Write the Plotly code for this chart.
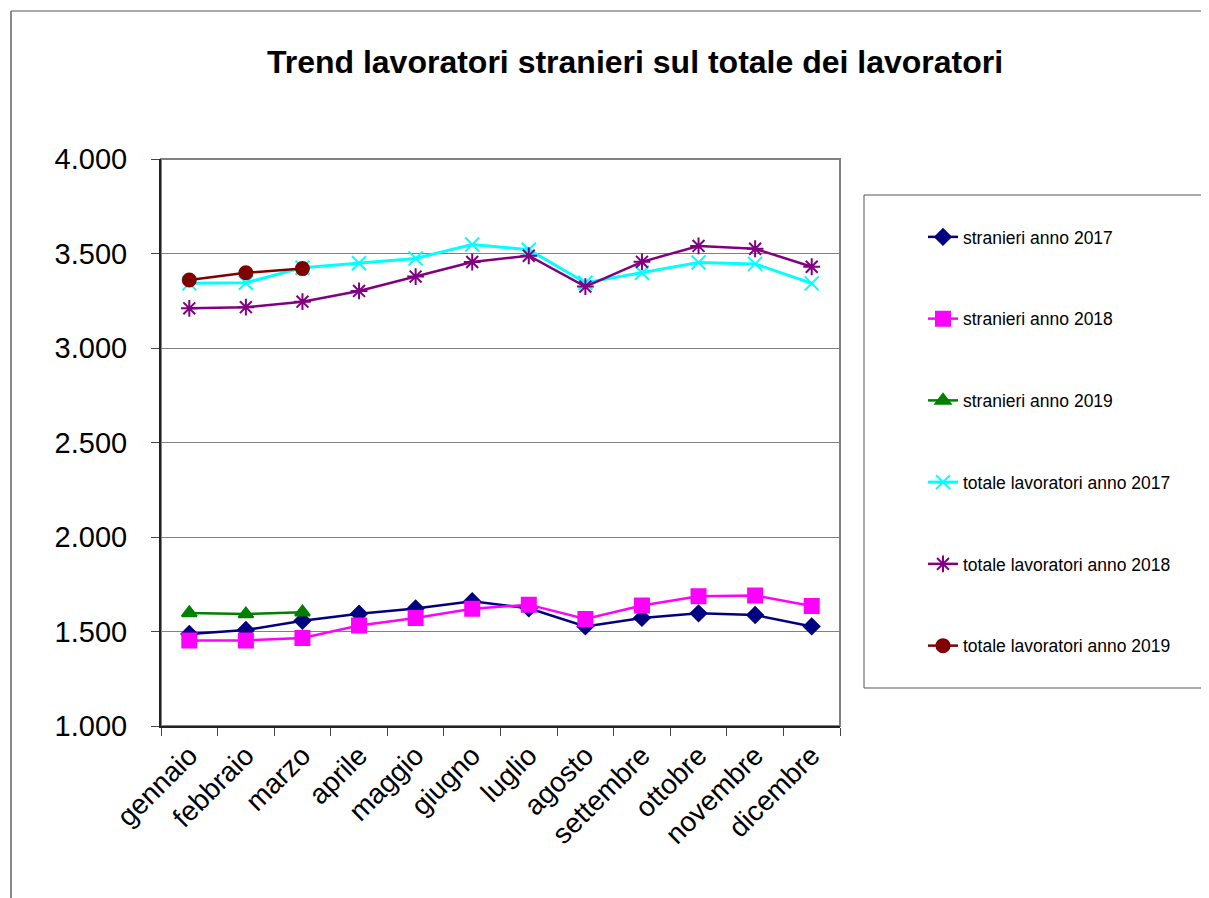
import plotly.graph_objects as go

mesi = ["gennaio", "febbraio", "marzo", "aprile", "maggio", "giugno",
        "luglio", "agosto", "settembre", "ottobre", "novembre", "dicembre"]

stranieri_2017 = [1487, 1508, 1557, 1594, 1622, 1660, 1623, 1527, 1572, 1596, 1587, 1527]
stranieri_2018 = [1453, 1453, 1466, 1532, 1571, 1620, 1642, 1566, 1638, 1686, 1690, 1635]
stranieri_2019 = [1598, 1592, 1602]
totale_2017 = [3342, 3345, 3425, 3448, 3474, 3548, 3520, 3345, 3398, 3452, 3445, 3342]
totale_2018 = [3210, 3216, 3245, 3302, 3378, 3455, 3488, 3325, 3456, 3540, 3525, 3430]
totale_2019 = [3360, 3398, 3420]

serie = [
    ("stranieri anno 2017", stranieri_2017, "#000080", "diamond", 12, 2.5),
    ("stranieri anno 2018", stranieri_2018, "#FF00FF", "square", 14, 2.5),
    ("stranieri anno 2019", stranieri_2019, "#008000", "triangle-up", 13, 2.5),
    ("totale lavoratori anno 2017", totale_2017, "#00FFFF", "x-thin-open", 14, 3),
    ("totale lavoratori anno 2018", totale_2018, "#800080", "asterisk-open", 14, 2.5),
    ("totale lavoratori anno 2019", totale_2019, "#800000", "circle", 13, 2.5),
]

fig = go.Figure()
for i, (nome, valori, col, simb, dim, lw) in enumerate(serie):
    fig.add_trace(go.Scatter(
        x=mesi[:len(valori)], y=valori, name=nome, mode="lines+markers",
        line=dict(color=col, width=lw),
        marker=dict(symbol=simb, size=dim, color=col, line=dict(color=col, width=2)),
        legendgroup=str(i),
    ))

# la pagina ha un margine di 8px: coordinate della figura = schermo - 8
OFF = 8
W, H = 1209 - OFF, 898 - OFF
L, T = 161 - OFF, 159 - OFF
pw, ph = 679, 567
R, B = W - L - pw, H - T - ph

def px(x):
    return (x - OFF - L) / pw

def py(y):
    return (T + ph - (y - OFF)) / ph

shapes = [
    # bordo area grafico
    dict(type="rect", xref="paper", yref="paper", x0=0, x1=1, y0=0, y1=1,
         line=dict(color="#808080", width=2), layer="below"),
    # riquadro legenda
    dict(type="rect", xref="paper", yref="paper", x0=px(864), x1=px(1215),
         y0=py(688), y1=py(195), line=dict(color="#555555", width=1)),
    # cornice esterna
    dict(type="line", xref="paper", yref="paper", x0=px(11), x1=px(1215),
         y0=py(11), y1=py(11), line=dict(color="#555555", width=1)),
    dict(type="line", xref="paper", yref="paper", x0=px(11), x1=px(11),
         y0=py(11), y1=py(905), line=dict(color="#888888", width=2)),
]

fig.update_layout(
    width=W, height=H,
    margin=dict(l=L, r=R, t=T, b=B),
    paper_bgcolor="white", plot_bgcolor="white",
    separators=",.",
    font=dict(family="Arial, Liberation Sans, sans-serif", color="black"),
    title=dict(text="<b>Trend lavoratori stranieri sul totale dei lavoratori</b>",
               x=(635 - OFF) / W, xanchor="center", y=1 - (62 - OFF) / H,
               yanchor="middle", font=dict(size=32)),
    showlegend=True,
    legend=dict(x=px(923), xanchor="left", y=py(219), yanchor="top",
                bgcolor="rgba(0,0,0,0)", font=dict(size=17.5),
                tracegroupgap=56, itemclick=False),
    shapes=shapes,
)

fig.update_xaxes(
    type="category", range=[-0.5, 11.5], showgrid=False,
    showline=True, linecolor="#222222", linewidth=2,
    ticks="outside", tickson="boundaries", ticklen=8, tickcolor="#444444",
    tickangle=-45, tickfont=dict(size=28), zeroline=False,
)
fig.update_yaxes(
    range=[1000, 4000], dtick=500, tickformat=",d",
    showgrid=True, gridcolor="#808080", gridwidth=1,
    showline=True, linecolor="#222222", linewidth=2,
    ticks="outside", ticklen=8, tickcolor="#444444", ticklabelstandoff=18,
    tickfont=dict(size=29), zeroline=False,
)

fig.write_html("out.html")
